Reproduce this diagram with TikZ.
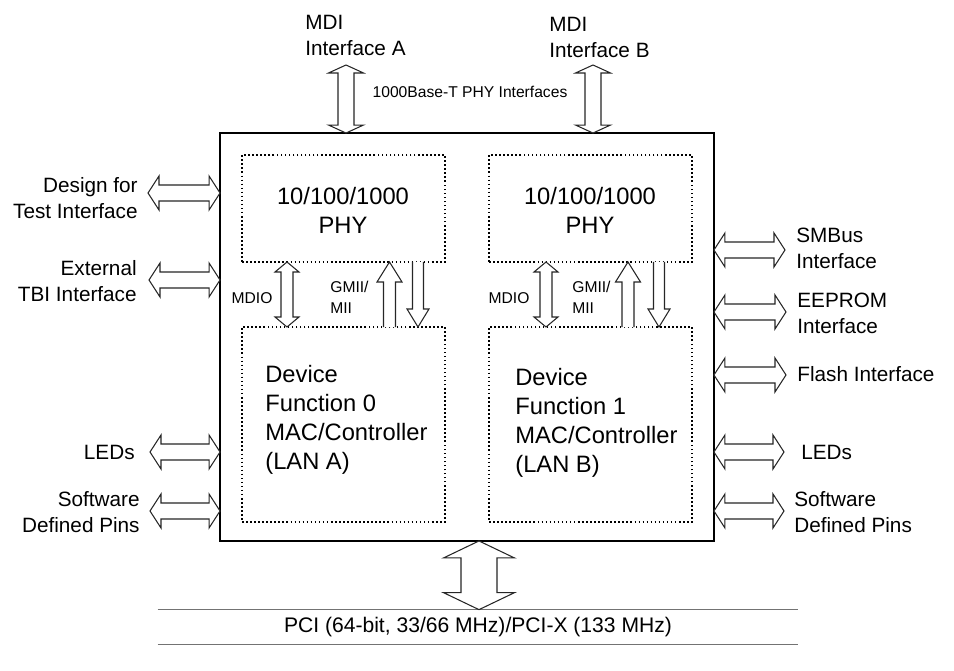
\documentclass[tikz,border=0pt]{standalone}
\usepackage{fontspec}
\setmainfont{Liberation Sans}
\usetikzlibrary{calc}
\tikzset{
  blockarrow/.style={draw=black!85, line width=0.6pt, fill=white},
  dotbox/.style={draw, line width=0.9pt, dash pattern=on 0.9pt off 1.4pt,
    minimum width=4.06cm, minimum height=#1, outer sep=0pt},
  biglabel/.style={font=\fontsize{13.5}{16.6}\selectfont, inner sep=0pt},
  sidelabel/.style={font=\fontsize{11.8}{14.8}\selectfont, inner sep=0pt},
  smalllabel/.style={font=\fontsize{8.9}{12}\selectfont, inner sep=0pt},
  busline/.style={draw=black!55, line width=0.8pt},
}
% hollow double arrows: #1,#2 tips, #3 half shaft, #4 half head, #5 head length
\newcommand{\vbiarrow}[5]{\draw[blockarrow] (#1) -- ($(#1)+(#4,#5)$) -- ($(#1)+(#3,#5)$)
  -- ($(#2)+(#3,-#5)$) -- ($(#2)+(#4,-#5)$) -- (#2) -- ($(#2)+(-#4,-#5)$)
  -- ($(#2)+(-#3,-#5)$) -- ($(#1)+(-#3,#5)$) -- ($(#1)+(-#4,#5)$) -- cycle;}
\newcommand{\hbiarrow}[5]{\draw[blockarrow] (#1) -- ($(#1)+(#5,-#4)$) -- ($(#1)+(#5,-#3)$)
  -- ($(#2)+(-#5,-#3)$) -- ($(#2)+(-#5,-#4)$) -- (#2) -- ($(#2)+(-#5,#4)$)
  -- ($(#2)+(-#5,#3)$) -- ($(#1)+(#5,#3)$) -- ($(#1)+(#5,#4)$) -- cycle;}
% single hollow arrows, open tail: #1 tip, #2 tail
\newcommand{\uparr}[5]{\draw[blockarrow] ($(#2)+(-#3,0)$) -- ($(#1)+(-#3,#5)$) -- ($(#1)+(-#4,#5)$)
  -- (#1) -- ($(#1)+(#4,#5)$) -- ($(#1)+(#3,#5)$) -- ($(#2)+(#3,0)$);}
\newcommand{\downarr}[5]{\draw[blockarrow] ($(#2)+(-#3,0)$) -- ($(#1)+(-#3,-#5)$) -- ($(#1)+(-#4,-#5)$)
  -- (#1) -- ($(#1)+(#4,-#5)$) -- ($(#1)+(#3,-#5)$) -- ($(#2)+(#3,0)$);}

\begin{document}
\begin{tikzpicture}[x=0.02cm, y=-0.02cm]
\useasboundingbox (0,0) rectangle (954,671);
%chip and its four blocks
\node[draw, line width=1.5pt, minimum width=9.88cm, minimum height=8.16cm, outer sep=0pt] (chip) at (467,337) {};
\node[dotbox=2.14cm] (phyA) at (343.5,208.5) {};
\node[dotbox=2.14cm] (phyB) at (590.5,208.5) {};
\node[dotbox=3.9cm] (devA) at (343.5,424.5) {};
\node[dotbox=3.9cm] (devB) at (590.5,424.5) {};
\node[biglabel, align=center] (phyAtxt) at (343,210) {10/100/1000\\PHY};
\node[biglabel, align=center] (phyBtxt) at (590,210) {10/100/1000\\PHY};
\node[biglabel, align=left, anchor=west] (devAtxt) at (265,420) {Device\\Function 0\\MAC/Controller\\(LAN A)};
\node[biglabel, align=left, anchor=west] (devBtxt) at (515,423) {Device\\Function 1\\MAC/Controller\\(LAN B)};

%PHY to MAC
\path (phyA.south) ++(-56.5,0) coordinate (mdioAT);
\path (phyA.south) ++(46,0) coordinate (gmiiAup);
\path (phyA.south) ++(74.5,0) coordinate (gmiiAdn);
\path (phyB.south) ++(-44.5,0) coordinate (mdioBT);
\path (phyB.south) ++(37.5,0) coordinate (gmiiBup);
\path (phyB.south) ++(68.5,0) coordinate (gmiiBdn);
\coordinate (mdioAB) at (mdioAT |- devA.north);
\coordinate (gmiiAupB) at (gmiiAup |- devA.north);
\coordinate (gmiiAdnB) at (gmiiAdn |- devA.north);
\coordinate (mdioBB) at (mdioBT |- devB.north);
\coordinate (gmiiBupB) at (gmiiBup |- devB.north);
\coordinate (gmiiBdnB) at (gmiiBdn |- devB.north);
\vbiarrow{mdioAT}{mdioAB}{6}{12}{10}
\vbiarrow{mdioBT}{mdioBB}{6}{12}{10}
\uparr{gmiiAup}{gmiiAupB}{6}{12.5}{20}
\uparr{gmiiBup}{gmiiBupB}{6}{12.5}{20}
\downarr{gmiiAdnB}{gmiiAdn}{5.5}{11}{18}
\downarr{gmiiBdnB}{gmiiBdn}{5.5}{11}{18}
\node[smalllabel] (mdioA) at (252,298) {MDIO};
\node[smalllabel] (mdioB) at (509,298) {MDIO};
\node[smalllabel, align=left, anchor=west] (gmiiA) at (330,297) {GMII/\\MII};
\node[smalllabel, align=left, anchor=west] (gmiiB) at (572,297) {GMII/\\MII};

%MDI interfaces on top
\coordinate (mdiAT) at (346,65);
\coordinate (mdiBT) at (593,65);
\coordinate (mdiAB) at (mdiAT |- chip.north);
\coordinate (mdiBB) at (mdiBT |- chip.north);
\vbiarrow{mdiAT}{mdiAB}{8}{17.5}{8}
\vbiarrow{mdiBT}{mdiBB}{8}{17.5}{8}
\node[sidelabel, align=left, anchor=west] (mdiA) at (305,35) {MDI\\Interface A};
\node[sidelabel, align=left, anchor=west] (mdiB) at (549,37) {MDI\\Interface B};
\node[smalllabel] (base) at (470,92) {1000Base-T PHY Interfaces};

%left side
\coordinate (dftL) at (148,193);
\coordinate (tbiL) at (149,280);
\coordinate (ledAL) at (150,452);
\coordinate (swAL) at (150,511);
\coordinate (dftR) at (dftL -| chip.west);
\coordinate (tbiR) at (tbiL -| chip.west);
\coordinate (ledAR) at (ledAL -| chip.west);
\coordinate (swAR) at (swAL -| chip.west);
\hbiarrow{dftL}{dftR}{8}{17}{11}
\hbiarrow{tbiL}{tbiR}{8}{17}{11}
\hbiarrow{ledAL}{ledAR}{8}{17}{11}
\hbiarrow{swAL}{swAR}{8}{17}{11}
\node[sidelabel, align=right, anchor=east] (dft) at (138,198) {Design for\\Test Interface};
\node[sidelabel, align=right, anchor=east] (tbi) at (137,281) {External\\TBI Interface};
\node[sidelabel, anchor=east] (ledA) at (135,452) {LEDs};
\node[sidelabel, align=right, anchor=east] (swA) at (140,512) {Software\\Defined Pins};

%right side
\coordinate (smbR) at (785,250);
\coordinate (eepR) at (786,312);
\coordinate (flR) at (786,375);
\coordinate (ledBR) at (784,452);
\coordinate (swBR) at (784,511);
\coordinate (smbL) at (smbR -| chip.east);
\coordinate (eepL) at (eepR -| chip.east);
\coordinate (flL) at (flR -| chip.east);
\coordinate (ledBL) at (ledBR -| chip.east);
\coordinate (swBL) at (swBR -| chip.east);
\hbiarrow{smbL}{smbR}{8}{17}{11}
\hbiarrow{eepL}{eepR}{8}{17}{11}
\hbiarrow{flL}{flR}{8}{17}{11}
\hbiarrow{ledBL}{ledBR}{8}{17}{11}
\hbiarrow{swBL}{swBR}{8}{17}{11}
\node[sidelabel, align=left, anchor=west] (smb) at (796,248) {SMBus\\Interface};
\node[sidelabel, align=left, anchor=west] (eep) at (797,313) {EEPROM\\Interface};
\node[sidelabel, anchor=west] (fl) at (797,374) {Flash Interface};
\node[sidelabel, anchor=west] (ledB) at (801,452) {LEDs};
\node[sidelabel, align=left, anchor=west] (swB) at (794,512) {Software\\Defined Pins};

%PCI bus
\node[font=\fontsize{12}{14}\selectfont, minimum width=12.8cm, minimum height=0.68cm] (pci) at (478,627)
  {PCI (64-bit, 33/66 MHz)/PCI-X (133 MHz)};
\draw[busline] (pci.north west) -- (pci.north east);
\draw[busline] (pci.south west) -- (pci.south east);
\path (chip.south) ++(12,0) coordinate (pciT);
\coordinate (pciB) at (pciT |- pci.north);
\vbiarrow{pciT}{pciB}{18}{35.5}{17}
\end{tikzpicture}
\end{document}
